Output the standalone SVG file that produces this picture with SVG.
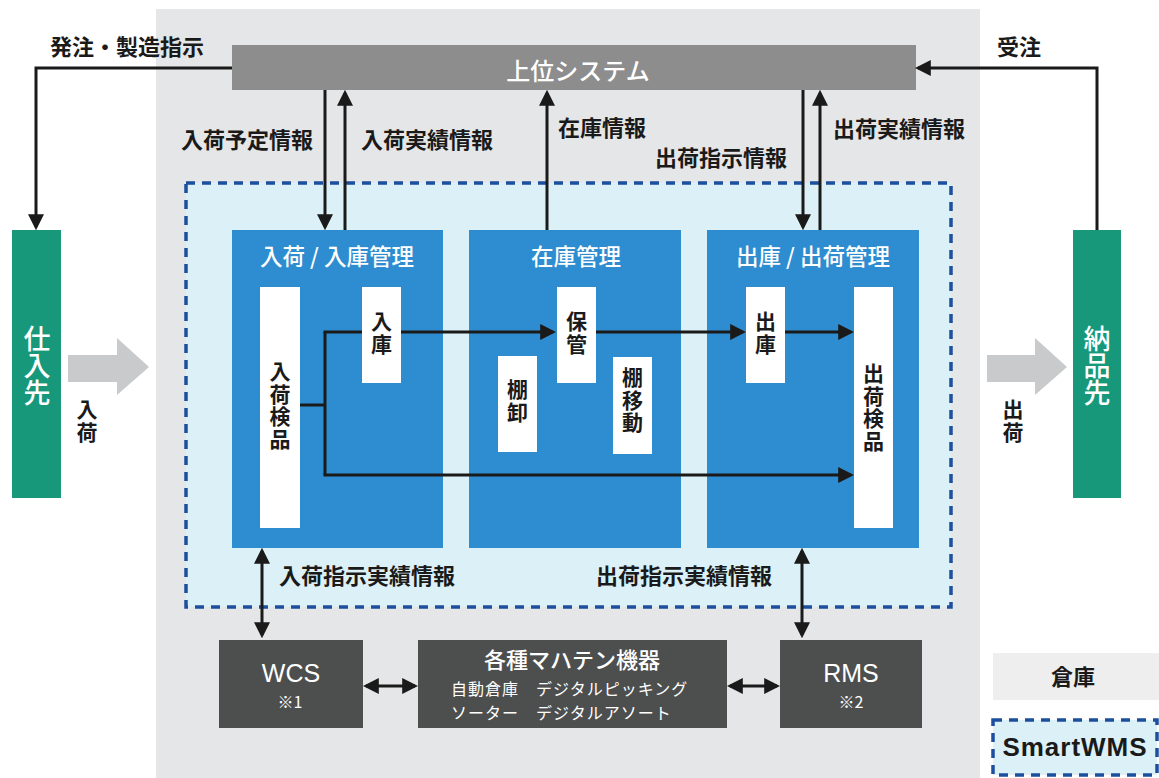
<svg xmlns="http://www.w3.org/2000/svg" width="1159" height="778" viewBox="0 0 1159 778">
<style>
.jp{font-family:"Noto Sans CJK JP","Noto Sans",sans-serif}
.lbl{font-family:"Noto Sans CJK JP","Noto Sans",sans-serif;font-weight:700;font-size:22px;fill:#1a1a1a}
.vt{font-family:"Noto Sans CJK JP","Noto Sans",sans-serif;font-weight:700;font-size:21px;letter-spacing:1.5px;fill:#1a1a1a;writing-mode:vertical-rl;text-anchor:start}
.ttl{font-family:"Noto Sans CJK JP","Noto Sans",sans-serif;font-weight:500;font-size:22.5px;fill:#ffffff;text-anchor:middle}
.gv{font-family:"Noto Sans CJK JP","Noto Sans",sans-serif;font-weight:500;font-size:27px;fill:#ffffff;writing-mode:vertical-rl;text-anchor:start}
.blue{fill:#2e8dd0}
.wbox{fill:#ffffff}
.green{fill:#17987a}
.dark{fill:#4d4f4f}
.wt{font-family:"Noto Sans CJK JP","Noto Sans",sans-serif;fill:#ffffff;text-anchor:middle}
.en{font-family:"Liberation Sans",Arial,sans-serif;fill:#ffffff;text-anchor:middle}
.ln{fill:none;stroke:#1a1a1a;stroke-width:3}
.garrow{fill:#c9cacb}
.dash{fill:#dcf1f7;stroke:#1c4f9e;stroke-width:3.5;stroke-dasharray:9 7}
</style>
<defs>
<marker id="ah" viewBox="0 0 10 10" refX="8" refY="5" markerWidth="16" markerHeight="16" markerUnits="userSpaceOnUse" orient="auto-start-reverse">
<path d="M0,0 L10,5 L0,10 z" fill="#1a1a1a"/>
</marker>
</defs>

<rect width="1159" height="778" fill="#ffffff"/>

<g id="warehouse">
<rect x="156" y="9" width="824" height="769" fill="#e5e6e7"/>
</g>

<g id="smartwms-area">
<rect class="dash" x="186" y="183" width="765" height="424"/>
</g>

<g id="upper-system">
<rect x="232" y="45" width="684" height="45" fill="#8d8d8d"/>
<text class="wt" x="578" y="80" font-size="24" font-weight="500">上位システム</text>
</g>

<g id="supplier">
<rect class="green" x="12" y="230" width="49" height="268"/>
<text class="gv" x="37" y="325">仕入先</text>
</g>

<g id="customer">
<rect class="green" x="1073" y="230" width="48" height="268"/>
<text class="gv" x="1097" y="325">納品先</text>
</g>

<g id="inbound-flow">
<path class="garrow" d="M68,355 H117 V338 L149,367 L117,395 V382 H68 Z"/>
<text class="vt" x="87" y="399" font-size="20" letter-spacing="2">入荷</text>
</g>

<g id="outbound-flow">
<path class="garrow" d="M987,355 H1035 V338 L1067,367 L1035,395 V382 H987 Z"/>
<text class="vt" x="1013" y="399" font-size="20" letter-spacing="2">出荷</text>
</g>

<g id="inbound-mgmt">
<rect class="blue" x="232" y="230" width="211" height="318"/>
<text class="ttl" x="337" y="265">入荷 / 入庫管理</text>
</g>
<g id="stock-mgmt">
<rect class="blue" x="469" y="230" width="212" height="318"/>
<text class="ttl" x="576" y="265">在庫管理</text>
</g>
<g id="outbound-mgmt">
<rect class="blue" x="707" y="230" width="212" height="318"/>
<text class="ttl" x="813" y="265">出庫 / 出荷管理</text>
</g>

<g id="connectors">
<path class="ln" d="M232,68 H36 V227" marker-end="url(#ah)"/>
<path class="ln" d="M1097,230 V68 H918" marker-end="url(#ah)"/>
<path class="ln" d="M325,90 V227" marker-end="url(#ah)"/>
<path class="ln" d="M345,230 V93" marker-end="url(#ah)"/>
<path class="ln" d="M547,230 V93" marker-end="url(#ah)"/>
<path class="ln" d="M803,90 V227" marker-end="url(#ah)"/>
<path class="ln" d="M820,230 V93" marker-end="url(#ah)"/>
<path class="ln" d="M262,551 V635" marker-start="url(#ah)" marker-end="url(#ah)"/>
<path class="ln" d="M802,551 V635" marker-start="url(#ah)" marker-end="url(#ah)"/>
<path class="ln" d="M366,686 H415" marker-start="url(#ah)" marker-end="url(#ah)"/>
<path class="ln" d="M730,686 H777" marker-start="url(#ah)" marker-end="url(#ah)"/>
<path class="ln" d="M300,405 H325"/>
<path class="ln" d="M325,332 V475"/>
<path class="ln" d="M323.5,332 H362"/>
<path class="ln" d="M401,332 H553" marker-end="url(#ah)"/>
<path class="ln" d="M596,332 H743" marker-end="url(#ah)"/>
<path class="ln" d="M785,332 H851" marker-end="url(#ah)"/>
<path class="ln" d="M323.5,475 H851" marker-end="url(#ah)"/>
</g>

<g id="labels">
<text class="lbl" x="50" y="55">発注・製造指示</text>
<text class="lbl" x="997" y="55">受注</text>
<text class="lbl" x="181" y="148">入荷予定情報</text>
<text class="lbl" x="361" y="148">入荷実績情報</text>
<text class="lbl" x="558" y="136">在庫情報</text>
<text class="lbl" x="655" y="166">出荷指示情報</text>
<text class="lbl" x="833" y="137">出荷実績情報</text>
<text class="lbl" x="279" y="584">入荷指示実績情報</text>
<text class="lbl" x="596" y="584">出荷指示実績情報</text>
</g>

<g id="inbound-inspection">
<rect class="wbox" x="260" y="287" width="40" height="241"/>
<text class="vt" x="280" y="361">入荷検品</text>
</g>
<g id="putaway">
<rect class="wbox" x="362" y="287" width="39" height="96"/>
<text class="vt" x="381.5" y="311">入庫</text>
</g>
<g id="storage">
<rect class="wbox" x="557" y="287" width="39" height="96"/>
<text class="vt" x="576.5" y="311">保管</text>
</g>
<g id="stocktaking">
<rect class="wbox" x="498" y="356" width="39" height="96"/>
<text class="vt" x="517.5" y="379">棚卸</text>
</g>
<g id="relocation">
<rect class="wbox" x="613" y="357" width="39" height="97"/>
<text class="vt" x="632.5" y="367">棚移動</text>
</g>
<g id="picking">
<rect class="wbox" x="746" y="287" width="39" height="96"/>
<text class="vt" x="765.5" y="311">出庫</text>
</g>
<g id="outbound-inspection">
<rect class="wbox" x="854" y="287" width="39" height="241"/>
<text class="vt" x="873.5" y="363">出荷検品</text>
</g>

<g id="wcs">
<rect class="dark" x="219" y="640" width="144" height="88"/>
<text class="en" x="291" y="682" font-size="25">WCS</text>
<text class="wt" x="290" y="708" font-size="16">※1</text>
</g>
<g id="material-handling">
<rect class="dark" x="418" y="640" width="309" height="88"/>
<text class="wt" x="572" y="668" font-size="22" font-weight="500">各種マハテン機器</text>
<text class="jp" x="451" y="695" font-size="16" fill="#ffffff" letter-spacing="1">自動倉庫　デジタルピッキング</text>
<text class="jp" x="451" y="719" font-size="16" fill="#ffffff" letter-spacing="1">ソーター　デジタルアソート</text>
</g>
<g id="rms">
<rect class="dark" x="780" y="640" width="142" height="88"/>
<text class="en" x="851" y="682" font-size="25">RMS</text>
<text class="wt" x="851" y="708" font-size="16">※2</text>
</g>

<g id="legend">
<rect x="993" y="653" width="166" height="47" fill="#eeeeee"/>
<text class="jp" x="1073" y="685" font-size="22" font-weight="700" fill="#1a1a1a" text-anchor="middle">倉庫</text>
<rect class="dash" x="993" y="720" width="164" height="55"/>
<text x="1075" y="756" font-family="Liberation Sans, Arial, sans-serif" font-weight="700" font-size="26" fill="#1a1a1a" text-anchor="middle" letter-spacing="1">SmartWMS</text>
</g>
</svg>
